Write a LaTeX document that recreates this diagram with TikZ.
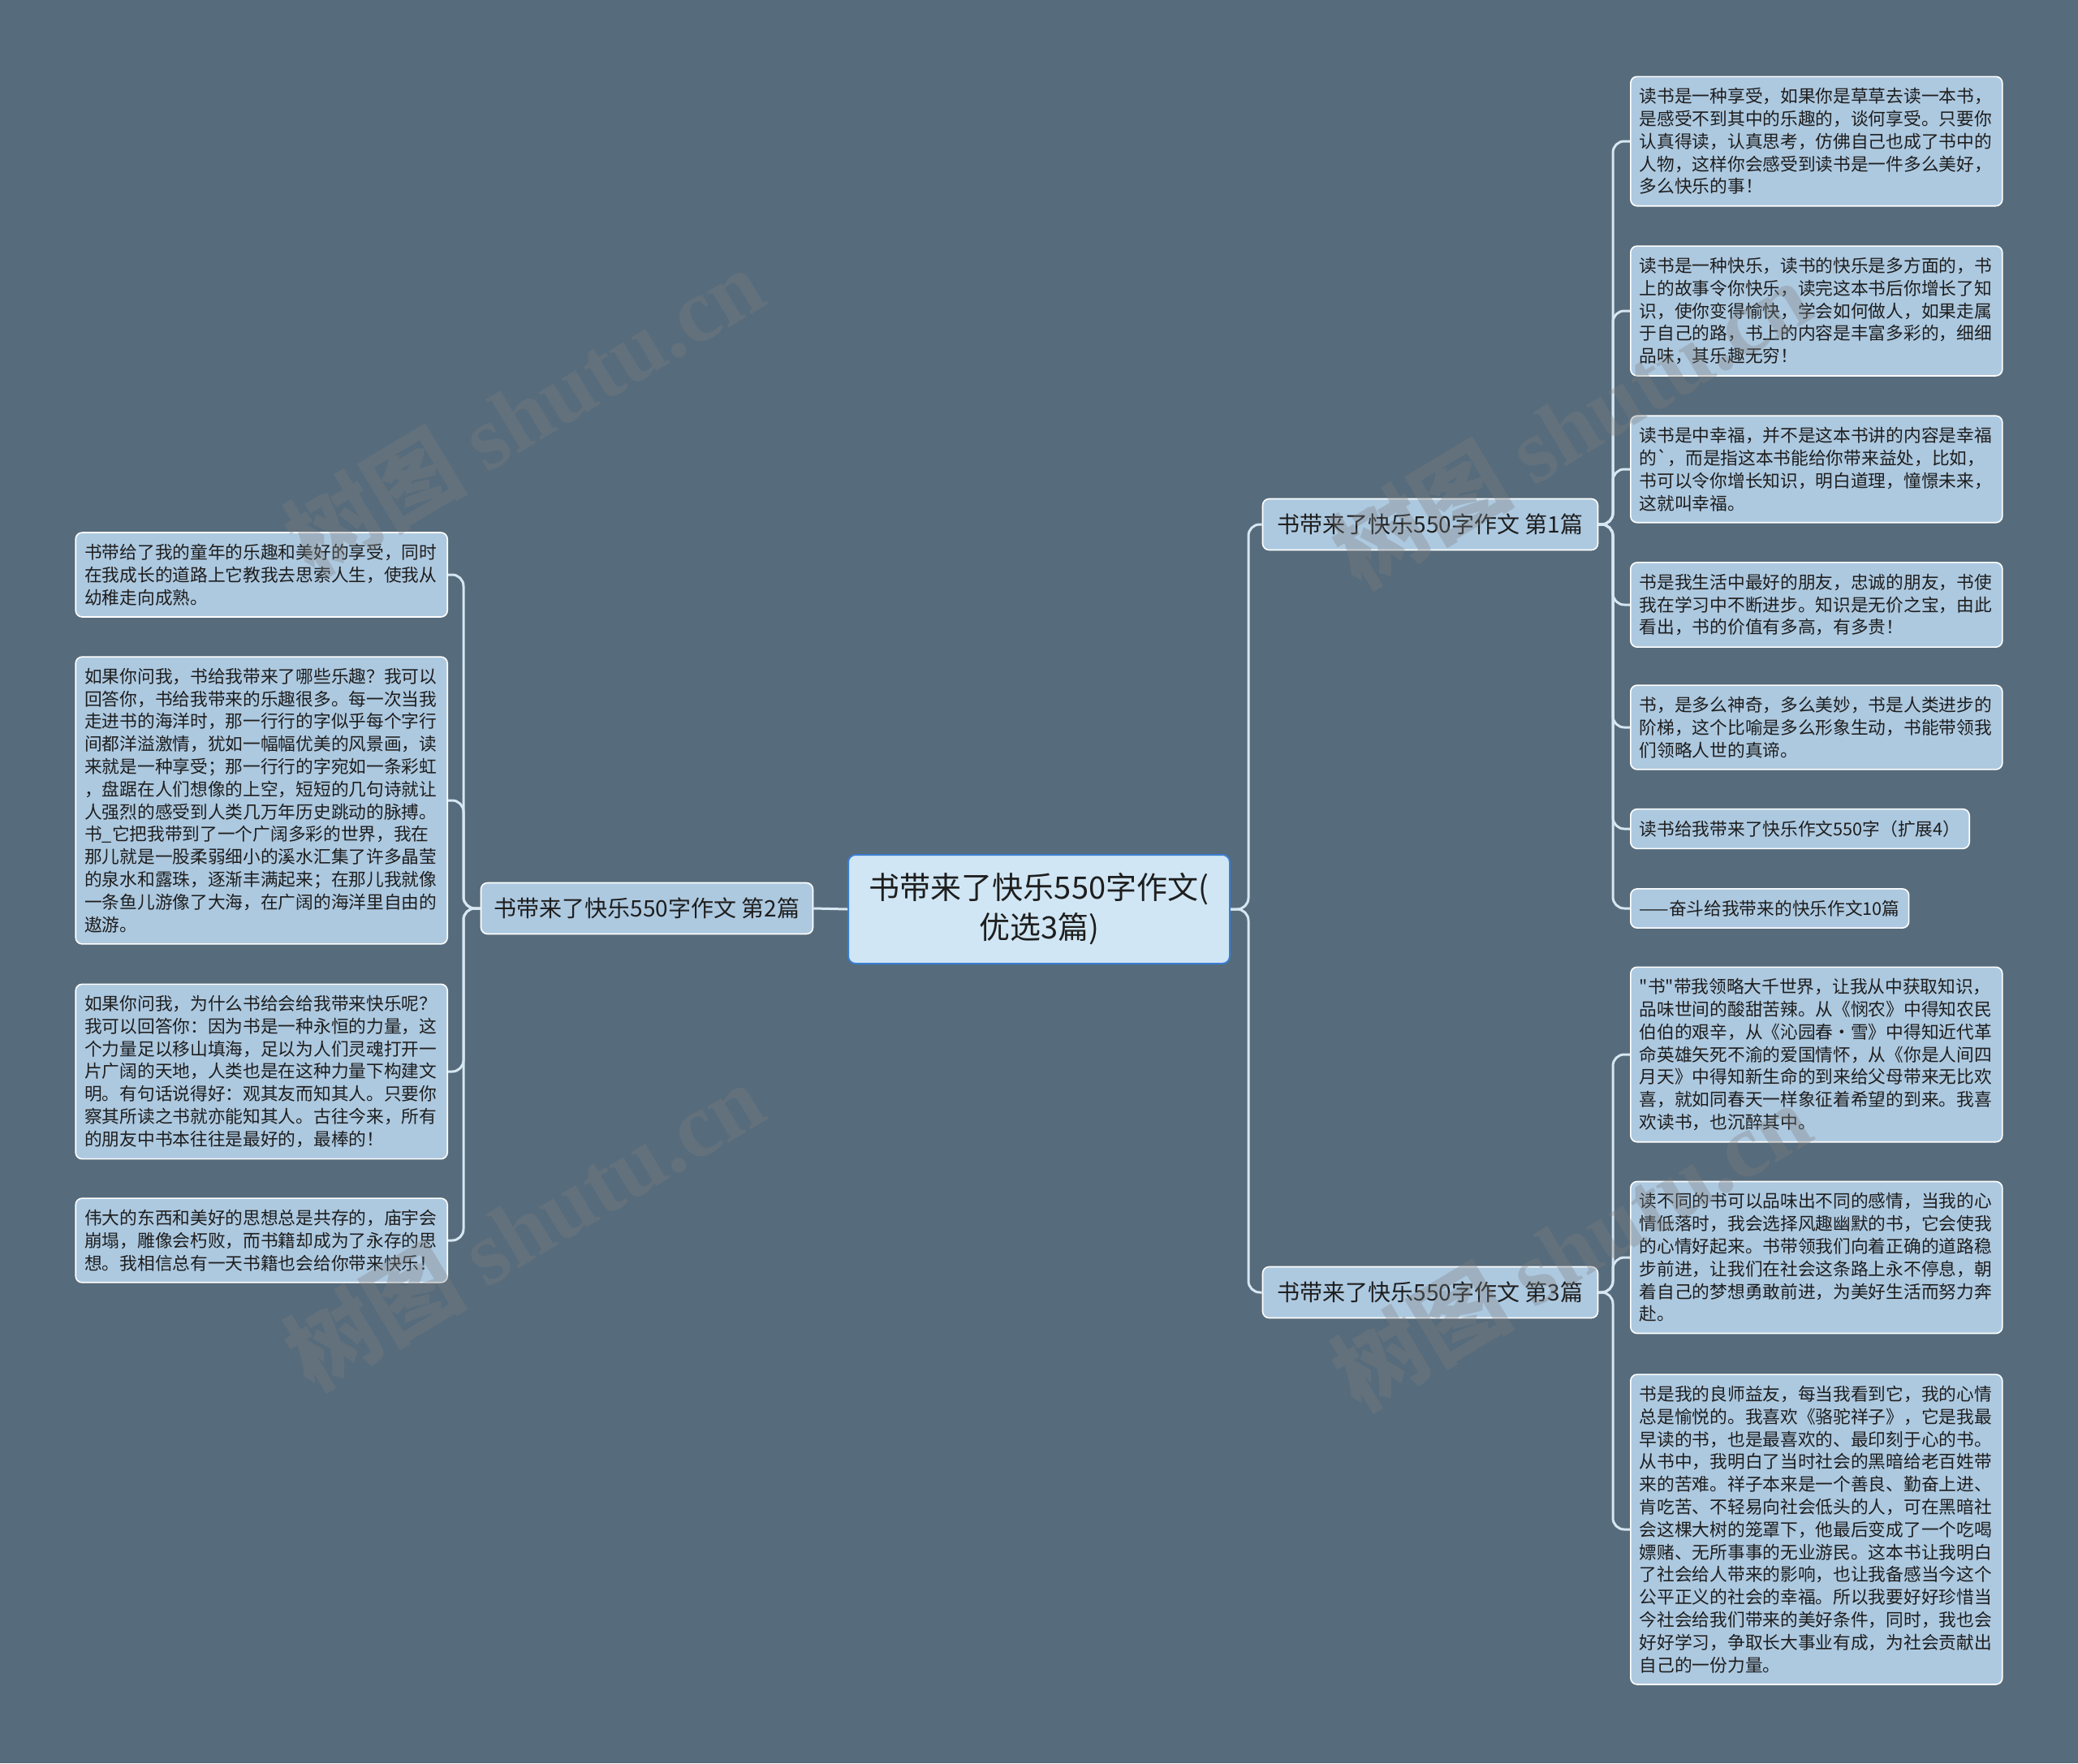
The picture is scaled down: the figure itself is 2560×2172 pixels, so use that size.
\documentclass[tikz,border=0pt]{standalone}
\usepackage{fontspec}
\setmainfont{Noto Sans CJK SC}[Ligatures=TeXOff]
\newfontfamily\wmlatin{Liberation Serif}
\definecolor{bgc}{HTML}{566B7B}
\definecolor{leafc}{HTML}{ADC9E0}
\definecolor{rootc}{HTML}{D0E6F4}
\definecolor{rootb}{HTML}{3B7DD0}
\definecolor{connc}{HTML}{D6E7F2}
\definecolor{txtc}{HTML}{1E1E1E}
\tikzset{
  leafbase/.style={draw=white, line width=1.6pt, fill=leafc, rounded corners=8pt,
    inner xsep=11pt, inner ysep=14pt, align=left, text=txtc,
    font=\fontsize{21.7}{27.8}\selectfont},
  leaf/.style={leafbase, text width=436pt},
  leafshort/.style={leafbase},
  midnode/.style={draw=white, line width=1.6pt, fill=leafc, rounded corners=8pt,
    inner xsep=14pt, inner ysep=10pt, text=txtc, minimum height=63pt,
    font=\fontsize{28}{34}\selectfont},
  rootnode/.style={draw=rootb, line width=2pt, fill=rootc, rounded corners=9pt,
    align=center, text=txtc, minimum width=470pt, minimum height=134pt,
    font=\fontsize{38}{49}\selectfont},
  conn/.style={draw=connc, line width=3pt},
  wm/.style={text=gray, opacity=0.33, font=\fontsize{112}{112}\selectfont\bfseries, rotate=31}
}
\begin{document}
\begin{tikzpicture}[x=1pt,y=-1pt]
\fill[bgc] (0,0) rectangle (2560,2172);
\useasboundingbox (0,0) rectangle (2560,2172);

% root and level-1
\node[rootnode] (C) at (1280,1120) {书带来了快乐550字作文(\\优选3篇)};
\node[midnode, minimum width=413pt] (N1) at (1762,646) {书带来了快乐550字作文 第1篇};
\node[midnode, minimum width=409pt] (N2) at (797,1119) {书带来了快乐550字作文 第2篇};
\node[midnode, minimum width=413pt] (N3) at (1762,1592) {书带来了快乐550字作文 第3篇};

% leaves of N1
\node[leaf, anchor=west] (L1) at (2008,174) {读书是一种享受，如果你是草草去读一本书，\\是感受不到其中的乐趣的，谈何享受。只要你\\认真得读，认真思考，仿佛自己也成了书中的\\人物，这样你会感受到读书是一件多么美好，\\多么快乐的事！};
\node[leaf, anchor=west] (L2) at (2008,383) {读书是一种快乐，读书的快乐是多方面的，书\\上的故事令你快乐，读完这本书后你增长了知\\识，使你变得愉快，学会如何做人，如果走属\\于自己的路，书上的内容是丰富多彩的，细细\\品味，其乐趣无穷！};
\node[leaf, anchor=west] (L3) at (2008,578) {读书是中幸福，并不是这本书讲的内容是幸福\\的\char96，而是指这本书能给你带来益处，比如，\\书可以令你增长知识，明白道理，憧憬未来，\\这就叫幸福。};
\node[leaf, anchor=west] (L4) at (2008,745) {书是我生活中最好的朋友，忠诚的朋友，书使\\我在学习中不断进步。知识是无价之宝，由此\\看出，书的价值有多高，有多贵！};
\node[leaf, anchor=west] (L5) at (2008,896) {书，是多么神奇，多么美妙，书是人类进步的\\阶梯，这个比喻是多么形象生动，书能带领我\\们领略人世的真谛。};
\node[leafshort, anchor=west] (L6) at (2008,1021) {读书给我带来了快乐作文550字（扩展4）};
\node[leafshort, anchor=west] (L7) at (2008,1119) {——奋斗给我带来的快乐作文10篇};

% leaves of N3
\node[leaf, anchor=west] (M1) at (2008,1299) {"书"带我领略大千世界，让我从中获取知识，\\品味世间的酸甜苦辣。从《悯农》中得知农民\\伯伯的艰辛，从《沁园春·雪》中得知近代革\\命英雄矢死不渝的爱国情怀，从《你是人间四\\月天》中得知新生命的到来给父母带来无比欢\\喜，就如同春天一样象征着希望的到来。我喜\\欢读书，也沉醉其中。};
\node[leaf, anchor=west] (M2) at (2008,1549) {读不同的书可以品味出不同的感情，当我的心\\情低落时，我会选择风趣幽默的书，它会使我\\的心情好起来。书带领我们向着正确的道路稳\\步前进，让我们在社会这条路上永不停息，朝\\着自己的梦想勇敢前进，为美好生活而努力奔\\赴。};
\node[leaf, anchor=west] (M3) at (2008,1884) {书是我的良师益友，每当我看到它，我的心情\\总是愉悦的。我喜欢《骆驼祥子》，它是我最\\早读的书，也是最喜欢的、最印刻于心的书。\\从书中，我明白了当时社会的黑暗给老百姓带\\来的苦难。祥子本来是一个善良、勤奋上进、\\肯吃苦、不轻易向社会低头的人，可在黑暗社\\会这棵大树的笼罩下，他最后变成了一个吃喝\\嫖赌、无所事事的无业游民。这本书让我明白\\了社会给人带来的影响，也让我备感当今这个\\公平正义的社会的幸福。所以我要好好珍惜当\\今社会给我们带来的美好条件，同时，我也会\\好好学习，争取长大事业有成，为社会贡献出\\自己的一份力量。};

% leaves of N2
\node[leaf, anchor=east] (K1) at (552,708) {书带给了我的童年的乐趣和美好的享受，同时\\在我成长的道路上它教我去思索人生，使我从\\幼稚走向成熟。};
\node[leaf, anchor=east] (K2) at (552,986) {如果你问我，书给我带来了哪些乐趣？我可以\\回答你，书给我带来的乐趣很多。每一次当我\\走进书的海洋时，那一行行的字似乎每个字行\\间都洋溢激情，犹如一幅幅优美的风景画，读\\来就是一种享受；那一行行的字宛如一条彩虹\\，盘踞在人们想像的上空，短短的几句诗就让\\人强烈的感受到人类几万年历史跳动的脉搏。\\书\_它把我带到了一个广阔多彩的世界，我在\\那儿就是一股柔弱细小的溪水汇集了许多晶莹\\的泉水和露珠，逐渐丰满起来；在那儿我就像\\一条鱼儿游像了大海，在广阔的海洋里自由的\\遨游。};
\node[leaf, anchor=east] (K3) at (552,1320) {如果你问我，为什么书给会给我带来快乐呢？\\我可以回答你：因为书是一种永恒的力量，这\\个力量足以移山填海，足以为人们灵魂打开一\\片广阔的天地，人类也是在这种力量下构建文\\明。有句话说得好：观其友而知其人。只要你\\察其所读之书就亦能知其人。古往今来，所有\\的朋友中书本往往是最好的，最棒的！};
\node[leaf, anchor=east] (K4) at (552,1528) {伟大的东西和美好的思想总是共存的，庙宇会\\崩塌，雕像会朽败，而书籍却成为了永存的思\\想。我相信总有一天书籍也会给你带来快乐！};

% connectors
\draw[conn] (N2.east) -- (C.west);
\foreach \t in {N1,N3}
  \draw[conn, rounded corners=14pt] (C.east) -- (1538,1120) |- (\t.west);
\foreach \t in {L1,L2,L3,L4,L5,L6,L7}
  \draw[conn, rounded corners=14pt] (N1.east) -- (1987,646) |- (\t.west);
\foreach \t in {M1,M2,M3}
  \draw[conn, rounded corners=14pt] (N3.east) -- (1987,1592) |- (\t.west);
\foreach \t in {K1,K2,K3,K4}
  \draw[conn, rounded corners=14pt] (N2.west) -- (571,1119) |- (\t.east);

% watermarks
\node[wm] (W1) at (645,506) {树图 {\wmlatin\bfseries shutu.cn}};
\node[wm] (W2) at (1935,522) {树图 {\wmlatin\bfseries shutu.cn}};
\node[wm] (W3) at (645,1510) {树图 {\wmlatin\bfseries shutu.cn}};
\node[wm] (W4) at (1935,1535) {树图 {\wmlatin\bfseries shutu.cn}};
\end{tikzpicture}
\end{document}
